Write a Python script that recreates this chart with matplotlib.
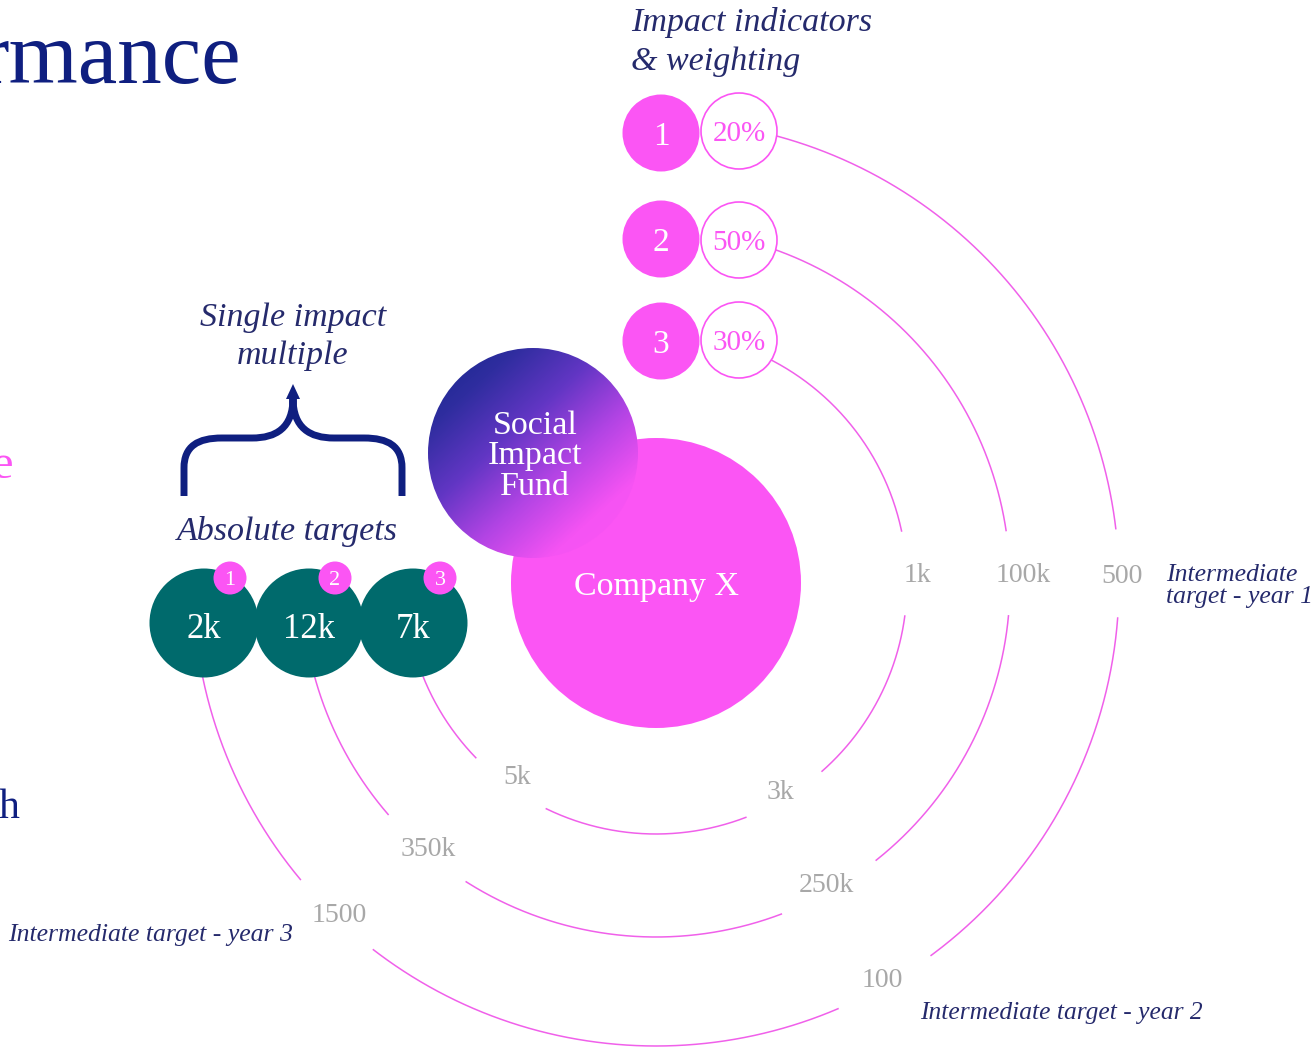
import numpy as np
import matplotlib

matplotlib.use("Agg")
import matplotlib.pyplot as plt
from matplotlib.patches import Circle, Polygon, PathPatch
from matplotlib.path import Path
from matplotlib.colors import LinearSegmentedColormap

# --- data -------------------------------------------------------------
indicators = ["1", "2", "3"]
weights = ["20%", "50%", "30%"]
absolute_targets = ["2k", "12k", "7k"]
year1_targets = ["500", "100k", "1k"]
year2_targets = ["100", "250k", "3k"]
year3_targets = ["1500", "350k", "5k"]

# --- layout (pixel space, y grows downwards) -----------------------------
W, H = 1314, 1049
CX, CY = 656, 583                 # centre of Company X and of the rings
ring_radius = [463, 354, 251]
weight_xy = [(739, 131), (739, 240), (739, 340)]
indicator_xy = [(661, 133), (661, 239), (661, 341)]
teal_xy = [(204, 623), (309, 623), (413, 623)]
badge_xy = [(230, 578), (335, 578), (440, 578)]

# label angle (deg), half gap (px), radial shift (px) for each ring
y1_angle, y1_gap, y1_dr = [1.2, 1.6, 2.2], [44, 42, 42], [3, 13, 11]
y2_angle, y2_gap, y2_dr = [-60.2, -60.4, -58.8], [53, 54, 44], [-8, -9, -10]
y3_angle, y3_gap, y3_dr = [-133.9, -130.8, -125.9], [50, 51, 43], [-6, -6, -14]

NAVY = "#0f1f80"
INK = "#252a6c"
PINK = "#fb55f4"
LINE_PINK = "#f060ea"
TEAL = "#006a6c"
GREY = "#a8a8a8"
SERIF = "Liberation Serif"

fig = plt.figure(figsize=(W / 100, H / 100), dpi=100)
ax = fig.add_axes([0, 0, 1, 1])
ax.axis("off")


def polar(r, deg):
    t = np.radians(deg)
    return CX + r * np.cos(t), CY - r * np.sin(t)


def angle_to(x, y):
    return np.degrees(np.arctan2(CY - y, x - CX))


# rings with gaps for the target labels
for i, r in enumerate(ring_radius):
    a_start = angle_to(*weight_xy[i])
    a_end = angle_to(*teal_xy[i])
    bounds = [a_start]
    for ang, gap in [(y1_angle[i], y1_gap[i]), (y2_angle[i], y2_gap[i]),
                     (y3_angle[i], y3_gap[i])]:
        half = np.degrees(gap / r)
        bounds += [ang + half, ang - half]
    bounds.append(a_end)
    for k in range(0, len(bounds), 2):
        th = np.linspace(bounds[k], bounds[k + 1], 300)
        xs, ys = polar(r, th)
        ax.plot(xs, ys, color=LINE_PINK, lw=1.1, zorder=1, solid_capstyle="butt")

    for labels, angs, drs in [(year1_targets, y1_angle, y1_dr),
                              (year2_targets, y2_angle, y2_dr),
                              (year3_targets, y3_angle, y3_dr)]:
        tx, ty = polar(r + drs[i], angs[i])
        ax.text(tx, ty, labels[i], color=GREY, fontsize=20, family=SERIF,
                ha="center", va="center_baseline", zorder=6)

# Company X
ax.add_patch(Circle((CX, CY), 145, color=PINK, lw=0, zorder=2))
ax.text(CX + 1, CY, "Company X", color="white", fontsize=24.5, family=SERIF,
        ha="center", va="center_baseline", zorder=6)

# Social Impact Fund bubble with gradient
sx, sy, sr = 533, 453, 105
sif_cmap = LinearSegmentedColormap.from_list(
    "sif", ["#13268a", "#2f2d9f", "#6236c4", "#b244e4", "#f553f3", "#fb55f4"])
gx, gy = np.meshgrid(np.linspace(0, 1, 300), np.linspace(0, 1, 300))
grad = (0.9 * gx + 1.0 * gy) / 1.9
circ = Circle((sx, sy), sr, transform=ax.transData, facecolor="none", lw=0)
ax.add_patch(circ)
im = ax.imshow(grad, cmap=sif_cmap, extent=(sx - sr, sx + sr, sy + sr, sy - sr),
               origin="upper", aspect="auto", zorder=3, interpolation="bilinear")
im.set_clip_path(circ)
ax.text(sx + 2, sy + 3, "Social\nImpact\nFund", color="white", fontsize=24.5,
        family=SERIF, ha="center", va="center", linespacing=1.0, zorder=6)

# indicators and weighting
for i in range(3):
    ax.add_patch(Circle(indicator_xy[i], 38.5, color=PINK, lw=0, zorder=4))
    ax.text(*indicator_xy[i], indicators[i], color="white", fontsize=24,
            family=SERIF, ha="center", va="center_baseline", zorder=6)
    ax.add_patch(Circle(weight_xy[i], 38, facecolor="white", edgecolor=PINK,
                        lw=1.2, zorder=4))
    ax.text(*weight_xy[i], weights[i], color=PINK, fontsize=21, family=SERIF,
            ha="center", va="center_baseline", zorder=6)

# absolute targets
for i in range(3):
    ax.add_patch(Circle(teal_xy[i], 54.5, color=TEAL, lw=0, zorder=4))
    ax.text(teal_xy[i][0], teal_xy[i][1] + 2, absolute_targets[i], color="white",
            fontsize=25, family=SERIF, ha="center", va="center_baseline", zorder=6)
    ax.add_patch(Circle(badge_xy[i], 16.5, color=PINK, lw=0, zorder=5))
    ax.text(*badge_xy[i], indicators[i], color="white", fontsize=16,
            family=SERIF, ha="center", va="center_baseline", zorder=6)

# curly brace with arrow
brace = [
    (184, 496), (184, 468), (184, 446), (198, 438), (222, 438),
    (252, 438), (276, 438), (293, 428), (293, 398),
    (293, 428), (310, 438), (334, 438),
    (364, 438), (388, 438), (402, 446), (402, 468), (402, 496),
]
codes = [Path.MOVETO, Path.LINETO, Path.CURVE4, Path.CURVE4, Path.CURVE4,
         Path.LINETO, Path.CURVE4, Path.CURVE4, Path.CURVE4,
         Path.CURVE4, Path.CURVE4, Path.CURVE4,
         Path.LINETO, Path.CURVE4, Path.CURVE4, Path.CURVE4, Path.LINETO]
ax.add_patch(PathPatch(Path(brace, codes), facecolor="none", edgecolor=NAVY,
                       lw=5, capstyle="butt", joinstyle="round", zorder=5))
ax.add_patch(Polygon([(293, 384), (286, 399), (300, 399)], closed=True,
                     color=NAVY, lw=0, zorder=5))

# captions
ax.text(631, 42, "Impact indicators\n& weighting", color=INK, fontsize=24.5,
        family=SERIF, style="italic", ha="left", va="center", linespacing=1.35,
        zorder=6)
ax.text(293, 337, "Single impact\nmultiple", color=INK, fontsize=24.5,
        family=SERIF, style="italic", ha="center", va="center", linespacing=1.3,
        zorder=6)
ax.text(287, 528, "Absolute targets", color=INK, fontsize=24.5, family=SERIF,
        style="italic", ha="center", va="center_baseline", zorder=6)
ax.text(1166, 586, "Intermediate\ntarget - year 1", color=INK, fontsize=18.5,
        family=SERIF, style="italic", ha="left", va="center", linespacing=0.95,
        zorder=6)
ax.text(920, 1010, "Intermediate target - year 2", color=INK, fontsize=18.4,
        family=SERIF, style="italic", ha="left", va="center_baseline", zorder=6)
ax.text(8, 932, "Intermediate target - year 3", color=INK, fontsize=18.5,
        family=SERIF, style="italic", ha="left", va="center_baseline", zorder=6)

# fragments of the surrounding slide text
ax.text(241, 83, "rmance", color=NAVY, fontsize=64, family=SERIF,
        ha="right", va="baseline", zorder=6)
ax.text(13, 478, "e", color=PINK, fontsize=35, family=SERIF,
        ha="right", va="baseline", zorder=6)
ax.text(19, 818, "h", color=NAVY, fontsize=30, family=SERIF,
        ha="right", va="baseline", zorder=6)

ax.set_xlim(0, W)
ax.set_ylim(H, 0)
fig.savefig("out.png", dpi=100)
